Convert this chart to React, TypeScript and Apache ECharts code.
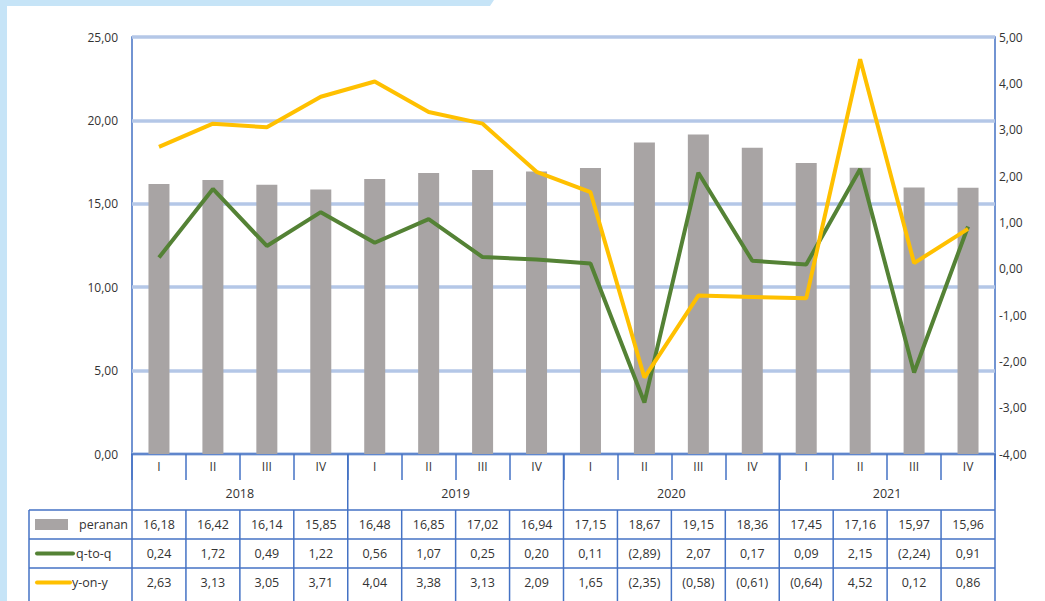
import React, { useEffect, useRef } from "react";
import * as echarts from "echarts";

const quarters = ["I", "II", "III", "IV", "I", "II", "III", "IV", "I", "II", "III", "IV", "I", "II", "III", "IV"];
const years = ["2018", "2019", "2020", "2021"];
const peranan = [16.18, 16.42, 16.14, 15.85, 16.48, 16.85, 17.02, 16.94, 17.15, 18.67, 19.15, 18.36, 17.45, 17.16, 15.97, 15.96];
const qtoq = [0.24, 1.72, 0.49, 1.22, 0.56, 1.07, 0.25, 0.2, 0.11, -2.89, 2.07, 0.17, 0.09, 2.15, -2.24, 0.91];
const yony = [2.63, 3.13, 3.05, 3.71, 4.04, 3.38, 3.13, 2.09, 1.65, -2.35, -0.58, -0.61, -0.64, 4.52, 0.12, 0.86];
const seriesNames = ["peranan", "q-to-q", "y-on-y"];

const BLUE = "#4472c4";
const GRID_BLUE = "#b4c7e7";
const GRAY = "#a8a4a4";
const GREEN = "#548235";
const YELLOW = "#ffc000";
const TXT = "#333333";
const FONT = "Open Sans";

const fmtAxis = (v: number) => v.toFixed(2).replace(".", ",");
const fmtCell = (v: number) => {
  const s = Math.abs(v).toFixed(2).replace(".", ",");
  return v < 0 ? `(${s})` : s;
};

export default function App() {
  const ref = useRef<HTMLDivElement>(null);
  useEffect(() => {
    document.body.style.margin = "0";
    const chart = echarts.init(ref.current!, null, { renderer: "svg" });
    const gridLeft = 132;
    const gridRight = 50;
    const gridTop = 37;
    const gridBottom = 147;
    chart.setOption({
      animation: false,
      grid: {
        left: gridLeft,
        right: gridRight,
        top: gridTop,
        bottom: gridBottom,
        show: true,
        borderColor: BLUE,
        borderWidth: 1.5,
      },
      xAxis: {
        type: "category",
        data: quarters,
        boundaryGap: true,
        axisLine: { lineStyle: { color: BLUE, width: 1.5 } },
        axisTick: { show: true, length: 26, interval: 0, lineStyle: { color: BLUE, width: 1.5 } },
        axisLabel: { color: TXT, fontFamily: FONT, fontSize: 12, margin: 6, interval: 0 },
      },
      yAxis: [
        {
          type: "value",
          min: 0,
          max: 25,
          interval: 5,
          axisLine: { show: false },
          axisTick: { show: false },
          axisLabel: { formatter: fmtAxis, color: TXT, fontFamily: FONT, fontSize: 12, fontWeight: 500, margin: 14 },
          splitLine: { lineStyle: { color: GRID_BLUE, width: 3.5 } },
        },
        {
          type: "value",
          min: -4,
          max: 5,
          interval: 1,
          position: "right",
          axisLine: { show: false },
          axisTick: { show: false },
          axisLabel: { formatter: fmtAxis, color: TXT, fontFamily: FONT, fontSize: 12, fontWeight: 500, margin: 4 },
          splitLine: { show: false },
        },
      ],
      series: [
        {
          name: seriesNames[0],
          type: "bar",
          data: peranan,
          barWidth: 21,
          itemStyle: { color: GRAY },
          yAxisIndex: 0,
        },
        {
          name: seriesNames[1],
          type: "line",
          data: qtoq,
          yAxisIndex: 1,
          symbol: "none",
          lineStyle: { color: GREEN, width: 4 },
          itemStyle: { color: GREEN },
          z: 3,
        },
        {
          name: seriesNames[2],
          type: "line",
          data: yony,
          yAxisIndex: 1,
          symbol: "none",
          lineStyle: { color: YELLOW, width: 4 },
          itemStyle: { color: YELLOW },
          z: 4,
        },
      ],
    });

    const n = quarters.length;
    const x0 = chart.convertToPixel({ xAxisIndex: 0 }, 0) as number;
    const x1 = chart.convertToPixel({ xAxisIndex: 0 }, 1) as number;
    const colW = x1 - x0;
    const leftEdge = x0 - colW / 2;
    const rightEdge = leftEdge + colW * n;
    const axisY = chart.convertToPixel({ yAxisIndex: 0 }, 0) as number;
    const tableTop = 510;
    const rowH = 29;
    const tableLeft = 29;
    const bottom = 601;
    const els: any[] = [];
    const cellFont = `500 12.5px "${FONT}"`;
    const line = (xa: number, ya: number, xb: number, yb: number) =>
      els.push({ type: "line", shape: { x1: xa, y1: ya, x2: xb, y2: yb }, style: { stroke: BLUE, lineWidth: 1.5 }, z: 10 });

    // decoration band
    els.push({
      type: "polygon",
      shape: { points: [[0, 0], [494, 0], [490, 6], [7, 6], [7, 601], [0, 601]] },
      style: { fill: "#c6e4f7" },
      z: 0,
    });

    // year separators through axis region
    for (let k = 0; k <= years.length; k++) {
      const x = leftEdge + k * 4 * colW;
      line(x, axisY, x, tableTop);
    }
    // year labels
    years.forEach((y, k) => {
      els.push({
        type: "text",
        x: leftEdge + (k * 4 + 2) * colW,
        y: 493,
        style: { text: y, fill: TXT, font: cellFont, align: "center", verticalAlign: "middle" },
        z: 10,
      });
    });
    // table horizontal lines
    for (let r = 0; r < 3; r++) line(tableLeft, tableTop + r * rowH, rightEdge, tableTop + r * rowH);
    // table vertical lines
    line(tableLeft, tableTop, tableLeft, bottom);
    for (let i = 0; i <= n; i++) {
      const x = leftEdge + i * colW;
      line(x, tableTop, x, bottom);
    }
    const rows = [peranan, qtoq, yony];
    rows.forEach((vals, r) => {
      const cy = tableTop + r * rowH + rowH / 2;
      vals.forEach((v, i) => {
        els.push({
          type: "text",
          x: leftEdge + (i + 0.5) * colW,
          y: cy,
          style: { text: fmtCell(v), fill: TXT, font: cellFont, align: "center", verticalAlign: "middle" },
          z: 10,
        });
      });
    });
    // legend keys
    const cy0 = tableTop + rowH / 2;
    els.push({ type: "rect", shape: { x: 35, y: cy0 - 5.5, width: 33, height: 11 }, style: { fill: GRAY }, z: 10 });
    els.push({
      type: "text", x: 128, y: cy0,
      style: { text: seriesNames[0], fill: TXT, font: cellFont, align: "right", verticalAlign: "middle" }, z: 10,
    });
    const cy1 = tableTop + rowH * 1.5;
    els.push({
      type: "line", shape: { x1: 37, y1: cy1, x2: 73, y2: cy1 },
      style: { stroke: GREEN, lineWidth: 4, lineCap: "round" }, z: 10,
    });
    els.push({
      type: "text", x: 76, y: cy1,
      style: { text: seriesNames[1], fill: TXT, font: cellFont, align: "left", verticalAlign: "middle" }, z: 10,
    });
    const cy2 = tableTop + rowH * 2.5;
    els.push({
      type: "line", shape: { x1: 37, y1: cy2, x2: 70, y2: cy2 },
      style: { stroke: YELLOW, lineWidth: 4, lineCap: "round" }, z: 10,
    });
    els.push({
      type: "text", x: 72, y: cy2,
      style: { text: seriesNames[2], fill: TXT, font: cellFont, align: "left", verticalAlign: "middle" }, z: 10,
    });

    chart.setOption({ graphic: { elements: els } });
    return () => chart.dispose();
  }, []);
  return <div ref={ref} style={{ width: 1045, height: 601 }} />;
}
